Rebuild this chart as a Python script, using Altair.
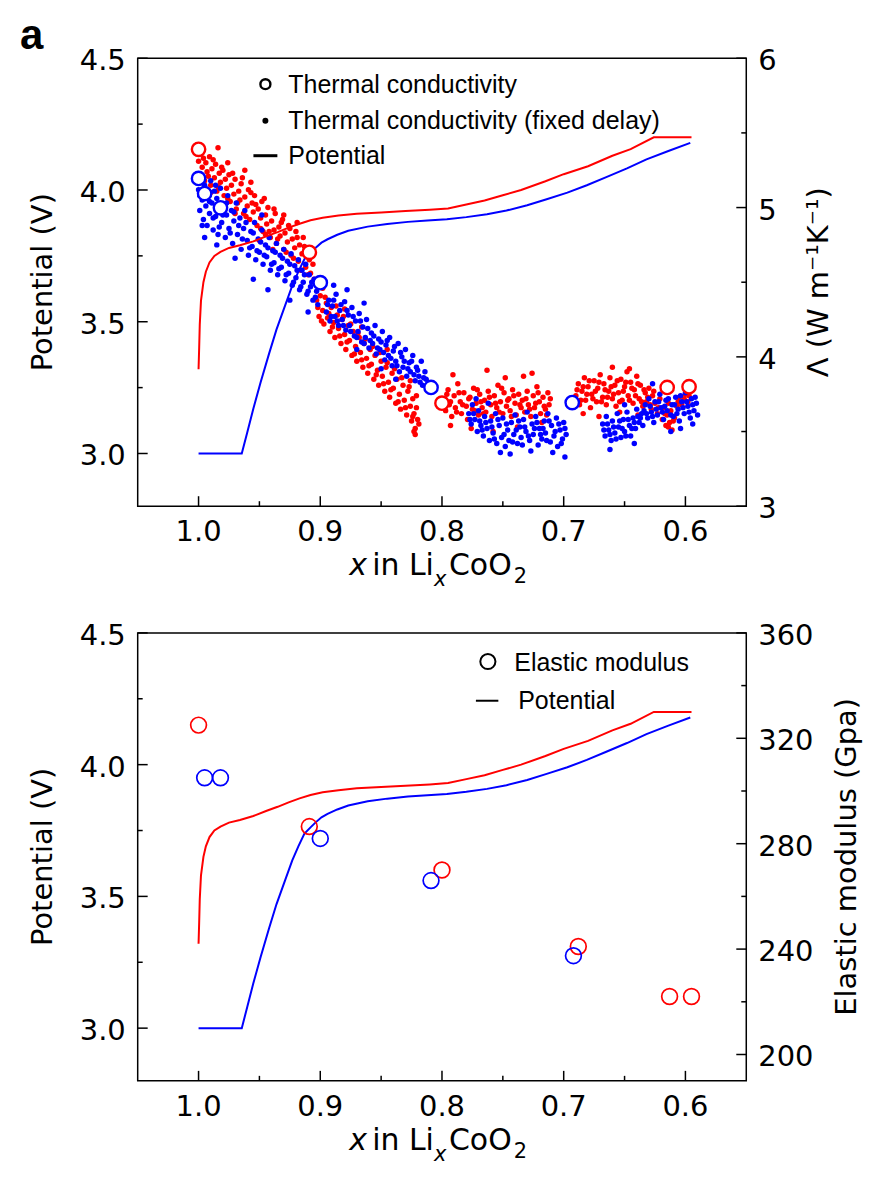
import altair as alt
import pandas as pd

AX_FONT = "DejaVu Sans"
LG_FONT = "Liberation Sans"
RED = "#ff0000"
BLUE = "#0000ff"
W, H = 610, 449

# ---------------- axes / ticks ----------------
X_DOMAIN = [0.55, 1.05]
V_DOMAIN = [2.8, 4.5]
L_DOMAIN = [3.0, 6.0]
E_DOMAIN = [190.0, 360.0]
X_MAJOR = [1.0, 0.9, 0.8, 0.7, 0.6]
X_MINOR = [0.95, 0.85, 0.75, 0.65]
V_MAJOR = [3.0, 3.5, 4.0, 4.5]
V_MINOR = [3.25, 3.75, 4.25]
L_MAJOR = [3, 4, 5, 6]
L_MINOR = [3.5, 4.5, 5.5]
E_MAJOR = [200, 240, 280, 320, 360]
E_MINOR = [220, 260, 300, 340]

# ---------------- potential curves (V) ----------------
RED_PX = [1.000, 0.9995, 0.999, 0.998, 0.996, 0.994, 0.991, 0.987, 0.982, 0.975, 0.966, 0.955,
          0.944, 0.935, 0.926, 0.917, 0.908, 0.898, 0.885, 0.870, 0.850, 0.830, 0.810, 0.795,
          0.780, 0.765, 0.750, 0.735, 0.715, 0.700, 0.680, 0.660, 0.645, 0.626, 0.612, 0.595]
RED_PV = [3.32, 3.40, 3.49, 3.58, 3.65, 3.69, 3.725, 3.75, 3.765, 3.78, 3.79, 3.805,
          3.825, 3.84, 3.857, 3.872, 3.885, 3.895, 3.903, 3.91, 3.915, 3.92, 3.925, 3.93,
          3.945, 3.96, 3.98, 4.0, 4.033, 4.06, 4.09, 4.13, 4.155, 4.2, 4.2, 4.2]
BLUE_PX = [1.000, 0.980, 0.9645, 0.960, 0.955, 0.949, 0.942, 0.936, 0.929, 0.923, 0.918, 0.913,
           0.908, 0.904, 0.899, 0.894, 0.886, 0.877, 0.861, 0.845, 0.828, 0.812, 0.796, 0.780,
           0.763, 0.747, 0.730, 0.714, 0.697, 0.681, 0.665, 0.648, 0.632, 0.614, 0.596]
BLUE_PV = [3.0, 3.0, 3.0, 3.08, 3.17, 3.27, 3.38, 3.47, 3.56, 3.637, 3.69, 3.738,
           3.762, 3.78, 3.80, 3.813, 3.83, 3.845, 3.861, 3.871, 3.879, 3.884, 3.889, 3.897,
           3.908, 3.922, 3.942, 3.965, 3.99, 4.018, 4.049, 4.082, 4.116, 4.148, 4.179]

# ---------------- thermal conductivity (open circles) ----------------
RED_TX = [1.000, 0.909, 0.800, 0.615, 0.597]
RED_T = [5.39, 4.70, 3.69, 3.795, 3.80]
BLUE_TX = [1.000, 0.995, 0.982, 0.900, 0.809, 0.693]
BLUE_T = [5.195, 5.094, 4.998, 4.497, 3.795, 3.694]

# ---------------- thermal conductivity, fixed delay (dots) [x, Lambda] ----------------
RED_DOTS_A = [
    [1.000, 5.31], [0.999, 5.22], [0.998, 5.36], [0.997, 5.27], [0.995, 5.18], [0.994, 5.30], [0.993, 5.24], [0.991, 5.34],
    [0.990, 5.15], [0.989, 5.26], [0.987, 5.20], [0.986, 5.29], [0.985, 5.11], [0.983, 5.23], [0.982, 5.17], [0.981, 5.27],
    [0.979, 5.08], [0.978, 5.19], [0.977, 5.13], [0.975, 5.22], [0.974, 5.04], [0.973, 5.15], [0.971, 5.09], [0.970, 5.19],
    [0.969, 4.99], [0.967, 5.11], [0.966, 5.05], [0.965, 5.16], [0.963, 4.96], [0.962, 5.07], [0.960, 5.01], [0.959, 5.12],
    [0.958, 4.92], [0.956, 5.03], [0.955, 4.97], [0.954, 5.08], [0.952, 4.88], [0.951, 4.99], [0.949, 4.93], [0.948, 5.04],
    [0.947, 4.84], [0.945, 4.95], [0.944, 4.89], [0.943, 5.00], [0.941, 4.80], [0.940, 4.91], [0.938, 4.85], [0.937, 4.96],
    [0.936, 4.76], [0.934, 4.87], [0.933, 4.81], [0.931, 4.92], [0.930, 4.72], [0.929, 4.83], [0.927, 4.77], [0.926, 4.88],
    [0.924, 4.68], [0.923, 4.79], [0.921, 4.73], [0.920, 4.84], [0.918, 4.64], [0.917, 4.75], [0.915, 4.69], [0.914, 4.80],
    [0.912, 4.60], [0.911, 4.71], [0.909, 4.65], [0.908, 4.56], [0.906, 4.62], [0.905, 4.52], [0.984, 5.40], [0.962, 5.25],
    [0.950, 4.78], [0.993, 5.12], [0.976, 5.30], [0.957, 5.17], [0.939, 4.72], [0.919, 4.90],
    [0.996, 5.33], [0.992, 5.21], [0.988, 5.32], [0.984, 5.14], [0.980, 5.25], [0.976, 5.06], [0.972, 5.23], [0.968, 5.03],
    [0.964, 5.20], [0.961, 4.94], [0.957, 5.10], [0.953, 5.02], [0.949, 4.86], [0.946, 5.06], [0.942, 4.84], [0.938, 4.99],
    [0.935, 4.79], [0.932, 4.90], [0.928, 4.70], [0.925, 4.86], [0.922, 4.66], [0.919, 4.80], [0.916, 4.58], [0.913, 4.74],
    [0.910, 4.55], [0.907, 4.68], [0.990, 5.10], [0.970, 4.96], [0.945, 4.82], [0.930, 4.95],
]
RED_DOTS_B = [
    [0.903, 4.38], [0.901, 4.27], [0.900, 4.41], [0.898, 4.31], [0.897, 4.22], [0.895, 4.36], [0.894, 4.26], [0.892, 4.17],
    [0.891, 4.33], [0.889, 4.23], [0.888, 4.13], [0.886, 4.28], [0.885, 4.19], [0.883, 4.09], [0.882, 4.25], [0.880, 4.15],
    [0.879, 4.05], [0.877, 4.21], [0.876, 4.11], [0.874, 4.01], [0.873, 4.17], [0.871, 4.07], [0.870, 3.97], [0.868, 4.13],
    [0.867, 4.03], [0.865, 3.93], [0.864, 4.09], [0.862, 3.99], [0.861, 3.89], [0.859, 4.05], [0.858, 3.95], [0.856, 3.85],
    [0.855, 4.01], [0.853, 3.91], [0.852, 3.81], [0.850, 3.97], [0.849, 3.87], [0.847, 3.77], [0.846, 3.93], [0.844, 3.83],
    [0.843, 3.73], [0.841, 3.89], [0.840, 3.79], [0.838, 3.69], [0.837, 3.85], [0.835, 3.75], [0.834, 3.65], [0.832, 3.81],
    [0.831, 3.71], [0.829, 3.61], [0.828, 3.77], [0.826, 3.67], [0.825, 3.57], [0.824, 3.72], [0.823, 3.62], [0.822, 3.52],
    [0.821, 3.66], [0.820, 3.58], [0.822, 3.48], [0.826, 3.84], [0.880, 4.32], [0.866, 4.20], [0.845, 4.05], [0.898, 4.46],
    [0.902, 4.33], [0.899, 4.24], [0.896, 4.40], [0.893, 4.29], [0.890, 4.20], [0.887, 4.34], [0.884, 4.14], [0.881, 4.27],
    [0.878, 4.10], [0.875, 4.22], [0.872, 4.02], [0.869, 4.16], [0.866, 3.98], [0.863, 4.12], [0.860, 3.94], [0.857, 4.07],
    [0.854, 3.88], [0.851, 4.03], [0.848, 3.82], [0.845, 3.96], [0.842, 3.78], [0.839, 3.92], [0.836, 3.70], [0.833, 3.86],
    [0.830, 3.66], [0.827, 3.80], [0.824, 3.60], [0.821, 3.74], [0.819, 3.55], [0.823, 3.50],
]
RED_DOTS_C = [
    [0.799, 3.72], [0.797, 3.64], [0.795, 3.78], [0.794, 3.68], [0.792, 3.60], [0.790, 3.74], [0.789, 3.66], [0.787, 3.82],
    [0.785, 3.70], [0.784, 3.62], [0.782, 3.76], [0.780, 3.67], [0.779, 3.58], [0.777, 3.73], [0.775, 3.65], [0.774, 3.79],
    [0.772, 3.69], [0.770, 3.61], [0.769, 3.75], [0.767, 3.66], [0.765, 3.71], [0.764, 3.63], [0.762, 3.77], [0.760, 3.68],
    [0.759, 3.60], [0.757, 3.74], [0.755, 3.66], [0.754, 3.81], [0.752, 3.70], [0.750, 3.62], [0.749, 3.76], [0.747, 3.67],
    [0.745, 3.72], [0.744, 3.64], [0.742, 3.78], [0.740, 3.69], [0.739, 3.61], [0.737, 3.75], [0.735, 3.66], [0.734, 3.71],
    [0.732, 3.63], [0.730, 3.77], [0.729, 3.68], [0.727, 3.60], [0.725, 3.74], [0.724, 3.66], [0.722, 3.80], [0.720, 3.70],
    [0.719, 3.62], [0.717, 3.73], [0.715, 3.65], [0.713, 3.76], [0.712, 3.68], [0.791, 3.88], [0.776, 3.52], [0.763, 3.91],
    [0.748, 3.86], [0.738, 3.53], [0.733, 3.87], [0.726, 3.89], [0.793, 3.54], [0.758, 3.50], [0.718, 3.56],
    [0.798, 3.66], [0.796, 3.75], [0.793, 3.70], [0.788, 3.63], [0.786, 3.76], [0.783, 3.68], [0.778, 3.72], [0.773, 3.64],
    [0.771, 3.78], [0.768, 3.70], [0.766, 3.62], [0.761, 3.73], [0.756, 3.69], [0.753, 3.63], [0.751, 3.79], [0.746, 3.71],
    [0.743, 3.60], [0.741, 3.74], [0.736, 3.68], [0.731, 3.72], [0.728, 3.65], [0.723, 3.69], [0.721, 3.76], [0.716, 3.67],
    [0.714, 3.61], [0.711, 3.72],
]
RED_DOTS_D = [
    [0.690, 3.74], [0.688, 3.82], [0.687, 3.68], [0.685, 3.77], [0.683, 3.86], [0.682, 3.71], [0.680, 3.80], [0.678, 3.66],
    [0.677, 3.75], [0.675, 3.84], [0.673, 3.70], [0.672, 3.79], [0.670, 3.88], [0.668, 3.73], [0.667, 3.82], [0.665, 3.68],
    [0.663, 3.77], [0.662, 3.86], [0.660, 3.72], [0.658, 3.81], [0.657, 3.67], [0.655, 3.76], [0.653, 3.85], [0.652, 3.71],
    [0.650, 3.80], [0.648, 3.90], [0.647, 3.74], [0.645, 3.83], [0.643, 3.69], [0.642, 3.78], [0.640, 3.87], [0.638, 3.72],
    [0.637, 3.81], [0.635, 3.67], [0.633, 3.76], [0.632, 3.70], [0.630, 3.79], [0.628, 3.65], [0.627, 3.74], [0.625, 3.69],
    [0.623, 3.62], [0.621, 3.72], [0.619, 3.58], [0.618, 3.66], [0.616, 3.54], [0.615, 3.61], [0.614, 3.69], [0.613, 3.56],
    [0.612, 3.64], [0.611, 3.51], [0.609, 3.59], [0.607, 3.67], [0.605, 3.73], [0.603, 3.68], [0.600, 3.75], [0.598, 3.70],
    [0.596, 3.77], [0.684, 3.62], [0.671, 3.60], [0.646, 3.92], [0.654, 3.63], [0.639, 3.61], [0.660, 3.93],
    [0.689, 3.78], [0.686, 3.71], [0.684, 3.80], [0.681, 3.75], [0.679, 3.84], [0.676, 3.72], [0.674, 3.77], [0.671, 3.83],
    [0.669, 3.70], [0.666, 3.78], [0.664, 3.73], [0.661, 3.80], [0.659, 3.75], [0.656, 3.84], [0.654, 3.70], [0.651, 3.77],
    [0.649, 3.83], [0.646, 3.71], [0.644, 3.79], [0.641, 3.74], [0.639, 3.82], [0.636, 3.70], [0.634, 3.78], [0.631, 3.73],
    [0.629, 3.68], [0.626, 3.77], [0.622, 3.66], [0.617, 3.62], [0.614, 3.53], [0.610, 3.57], [0.606, 3.70], [0.601, 3.72],
    [0.597, 3.74],
]
BLUE_DOTS_A = [
    [1.000, 5.12], [0.999, 4.98], [0.998, 5.20], [0.997, 5.05], [0.996, 4.92], [0.995, 5.15], [0.994, 5.01], [0.993, 4.88],
    [0.992, 5.09], [0.991, 4.96], [0.990, 5.18], [0.989, 5.03], [0.988, 4.85], [0.987, 5.11], [0.986, 4.94], [0.985, 5.06],
    [0.984, 4.82], [0.983, 4.99], [0.982, 5.13], [0.981, 4.90], [0.980, 5.02], [0.978, 4.80], [0.977, 4.95], [0.976, 5.08],
    [0.975, 4.86], [0.973, 4.98], [0.972, 4.76], [0.971, 4.91], [0.969, 5.03], [0.968, 4.82], [0.966, 4.93], [0.965, 4.72],
    [0.963, 4.86], [0.962, 4.98], [0.960, 4.78], [0.959, 4.68], [0.957, 4.84], [0.956, 4.74], [0.954, 4.90], [0.953, 4.65],
    [0.951, 4.79], [0.950, 4.70], [0.948, 4.85], [0.947, 4.62], [0.945, 4.75], [0.944, 4.67], [0.942, 4.80], [0.941, 4.58],
    [0.939, 4.71], [0.938, 4.63], [0.936, 4.76], [0.935, 4.55], [0.933, 4.68], [0.932, 4.60], [0.930, 4.72], [0.929, 4.51],
    [0.927, 4.64], [0.926, 4.56], [0.924, 4.69], [0.923, 4.48], [0.921, 4.61], [0.920, 4.53], [0.918, 4.65], [0.917, 4.45],
    [0.915, 4.58], [0.914, 4.50], [0.912, 4.62], [0.911, 4.42], [0.909, 4.55], [0.908, 4.47], [0.906, 4.38], [0.905, 4.52],
    [0.903, 4.44], [0.902, 4.35], [0.995, 4.80], [0.970, 4.66], [0.955, 4.52], [0.943, 4.45], [0.925, 4.38], [0.910, 4.30],
    [0.985, 4.75], [0.948, 4.95],
    [0.999, 5.08], [0.997, 4.88], [0.994, 5.10], [0.991, 5.04], [0.988, 4.93], [0.986, 5.15], [0.983, 4.87], [0.980, 4.95],
    [0.977, 5.03], [0.974, 4.83], [0.971, 4.97], [0.967, 4.88], [0.964, 4.79], [0.961, 4.90], [0.958, 4.73], [0.955, 4.83],
    [0.952, 4.71], [0.949, 4.77], [0.946, 4.68], [0.943, 4.73], [0.940, 4.62], [0.937, 4.70], [0.934, 4.59], [0.931, 4.66],
    [0.928, 4.55], [0.925, 4.62], [0.922, 4.50], [0.919, 4.58], [0.916, 4.47], [0.913, 4.55], [0.910, 4.44], [0.907, 4.50],
    [0.904, 4.40],
]
BLUE_DOTS_B = [
    [0.895, 4.30], [0.893, 4.38], [0.892, 4.24], [0.890, 4.34], [0.888, 4.27], [0.887, 4.42], [0.885, 4.21], [0.884, 4.31],
    [0.882, 4.25], [0.880, 4.37], [0.879, 4.18], [0.877, 4.28], [0.876, 4.21], [0.874, 4.33], [0.872, 4.14], [0.871, 4.24],
    [0.869, 4.17], [0.868, 4.29], [0.866, 4.10], [0.865, 4.20], [0.863, 4.13], [0.862, 4.25], [0.860, 4.06], [0.858, 4.16],
    [0.857, 4.09], [0.855, 4.21], [0.854, 4.02], [0.852, 4.12], [0.851, 4.05], [0.849, 4.17], [0.847, 3.98], [0.846, 4.08],
    [0.844, 4.01], [0.843, 4.13], [0.841, 3.94], [0.840, 4.04], [0.838, 3.97], [0.836, 4.09], [0.835, 3.90], [0.833, 4.00],
    [0.832, 3.93], [0.830, 4.05], [0.829, 3.87], [0.827, 3.96], [0.826, 3.90], [0.824, 4.01], [0.822, 3.84], [0.821, 3.93],
    [0.819, 3.87], [0.817, 3.97], [0.816, 3.81], [0.814, 3.90], [0.813, 3.85], [0.889, 4.48], [0.878, 4.45], [0.864, 4.36],
    [0.850, 3.92], [0.870, 4.05], [0.838, 3.85],
    [0.894, 4.35], [0.891, 4.27], [0.889, 4.38], [0.886, 4.24], [0.883, 4.35], [0.881, 4.21], [0.878, 4.31], [0.875, 4.17],
    [0.873, 4.27], [0.870, 4.13], [0.867, 4.24], [0.864, 4.09], [0.861, 4.19], [0.859, 4.11], [0.856, 4.14], [0.853, 4.06],
    [0.850, 4.10], [0.848, 4.03], [0.845, 4.11], [0.842, 3.99], [0.839, 4.07], [0.837, 3.94], [0.834, 4.03], [0.831, 3.97],
    [0.828, 3.92], [0.825, 3.97], [0.823, 3.88], [0.820, 3.91], [0.818, 3.83], [0.815, 3.86],
]
BLUE_DOTS_C = [
    [0.778, 3.62], [0.776, 3.55], [0.775, 3.68], [0.773, 3.58], [0.771, 3.50], [0.770, 3.64], [0.768, 3.54], [0.766, 3.47],
    [0.765, 3.60], [0.763, 3.52], [0.761, 3.44], [0.760, 3.57], [0.758, 3.49], [0.756, 3.62], [0.755, 3.42], [0.753, 3.54],
    [0.751, 3.46], [0.750, 3.59], [0.748, 3.40], [0.746, 3.51], [0.745, 3.44], [0.743, 3.56], [0.741, 3.48], [0.740, 3.61],
    [0.738, 3.42], [0.736, 3.53], [0.735, 3.46], [0.733, 3.58], [0.731, 3.50], [0.730, 3.63], [0.728, 3.44], [0.726, 3.55],
    [0.725, 3.48], [0.723, 3.60], [0.721, 3.41], [0.720, 3.52], [0.718, 3.45], [0.716, 3.57], [0.715, 3.49], [0.713, 3.62],
    [0.711, 3.43], [0.710, 3.54], [0.708, 3.47], [0.706, 3.59], [0.705, 3.40], [0.703, 3.51], [0.701, 3.45], [0.700, 3.56],
    [0.698, 3.48], [0.772, 3.72], [0.752, 3.36], [0.744, 3.35], [0.727, 3.37], [0.709, 3.36], [0.699, 3.33], [0.762, 3.69],
    [0.777, 3.58], [0.774, 3.62], [0.769, 3.57], [0.767, 3.51], [0.764, 3.56], [0.759, 3.53], [0.757, 3.45], [0.754, 3.58],
    [0.749, 3.48], [0.747, 3.55], [0.742, 3.43], [0.739, 3.51], [0.737, 3.57], [0.734, 3.41], [0.732, 3.53], [0.729, 3.47],
    [0.724, 3.52], [0.722, 3.56], [0.719, 3.48], [0.717, 3.52], [0.714, 3.44], [0.712, 3.57], [0.707, 3.50], [0.704, 3.55],
    [0.702, 3.42], [0.699, 3.52],
]
BLUE_DOTS_D = [
    [0.668, 3.55], [0.666, 3.47], [0.665, 3.60], [0.663, 3.51], [0.661, 3.44], [0.660, 3.57], [0.658, 3.49], [0.656, 3.62],
    [0.655, 3.53], [0.653, 3.46], [0.651, 3.58], [0.650, 3.50], [0.648, 3.63], [0.646, 3.54], [0.645, 3.47], [0.643, 3.59],
    [0.641, 3.52], [0.640, 3.65], [0.638, 3.56], [0.636, 3.62], [0.635, 3.54], [0.633, 3.68], [0.631, 3.59], [0.630, 3.72],
    [0.628, 3.63], [0.626, 3.56], [0.625, 3.70], [0.623, 3.61], [0.621, 3.75], [0.620, 3.66], [0.618, 3.58], [0.616, 3.71],
    [0.615, 3.64], [0.613, 3.78], [0.611, 3.68], [0.610, 3.60], [0.608, 3.73], [0.606, 3.65], [0.605, 3.57], [0.603, 3.70],
    [0.601, 3.62], [0.600, 3.76], [0.598, 3.67], [0.596, 3.59], [0.595, 3.72], [0.593, 3.64], [0.591, 3.69], [0.590, 3.61],
    [0.662, 3.38], [0.642, 3.42], [0.627, 3.82], [0.612, 3.50], [0.604, 3.52], [0.594, 3.55], [0.650, 3.68],
    [0.667, 3.51], [0.664, 3.55], [0.662, 3.48], [0.659, 3.53], [0.657, 3.45], [0.654, 3.57], [0.652, 3.52], [0.649, 3.47],
    [0.647, 3.58], [0.644, 3.52], [0.642, 3.56], [0.639, 3.60], [0.637, 3.59], [0.634, 3.64], [0.632, 3.62], [0.629, 3.67],
    [0.627, 3.60], [0.624, 3.65], [0.622, 3.70], [0.619, 3.63], [0.617, 3.67], [0.614, 3.72], [0.612, 3.61], [0.609, 3.68],
    [0.607, 3.62], [0.604, 3.74], [0.602, 3.66], [0.599, 3.70], [0.597, 3.63], [0.594, 3.68], [0.592, 3.73],
]

# ---------------- elastic modulus (GPa) ----------------
RED_EX = [1.000, 0.909, 0.800, 0.688, 0.613, 0.595]
RED_E = [325, 286.5, 270, 241, 222, 222]
BLUE_EX = [0.995, 0.982, 0.900, 0.809, 0.692]
BLUE_E = [305, 305, 282, 266, 237.5]


# ---------------- helpers ----------------
def xs():
    return alt.Scale(domain=X_DOMAIN, reverse=True, nice=False, zero=False)


def sc(domain):
    return alt.Scale(domain=domain, nice=False, zero=False)


def X(field="x"):
    return alt.X(f"{field}:Q", scale=xs(), axis=None)


def Y(field, domain):
    return alt.Y(f"{field}:Q", scale=sc(domain), axis=None)


def one_row():
    return pd.DataFrame({"k": [0]})


def text(t, x, y, size=25, font=LG_FONT, style="normal", weight="normal", baseline="middle", angle=0, align="left"):
    return alt.Chart(one_row()).mark_text(
        text=t, align=align, baseline=baseline, fontSize=size, font=font, angle=angle,
        fontStyle=style, fontWeight=weight, color="black"
    ).encode(x=alt.value(x), y=alt.value(y))


def symbol(x, y, size, filled, sw=2.0):
    return alt.Chart(one_row()).mark_point(
        shape="circle", filled=filled, size=size, color="black", strokeWidth=sw, opacity=1
    ).encode(x=alt.value(x), y=alt.value(y))


def seg(x0, x1, y, sw):
    return alt.Chart(one_row()).mark_rule(color="black", strokeWidth=sw).encode(
        x=alt.value(x0), x2=alt.value(x1), y=alt.value(y))


def yticks(values, domain, x0, x1):
    return alt.Chart(pd.DataFrame({"t": values})).mark_rule(color="black", strokeWidth=1.5).encode(
        y=Y("t", domain), x=alt.value(x0), x2=alt.value(x1))


def ylabels(values, domain, fmt, x, align):
    return alt.Chart(pd.DataFrame({"t": values})).mark_text(
        align=align, baseline="middle", dy=3, fontSize=29, font=AX_FONT, color="black"
    ).encode(y=Y("t", domain), x=alt.value(x), text=alt.Text("t:Q", format=fmt))


def xticks(values, length):
    return alt.Chart(pd.DataFrame({"x": values})).mark_rule(color="black", strokeWidth=1.5).encode(
        x=X(), y=alt.value(H - length), y2=alt.value(H))


def xlabels():
    return alt.Chart(pd.DataFrame({"x": X_MAJOR})).mark_text(
        align="center", baseline="top", fontSize=29, font=AX_FONT, color="black"
    ).encode(x=X(), y=alt.value(H + 12), text=alt.Text("x:Q", format=".1f"))


def x_title():
    return [
        text("x", 212, H + 69, size=30, font=AX_FONT, style="italic", baseline="alphabetic"),
        text("in Li", 235, H + 69, size=30, font=AX_FONT, baseline="alphabetic"),
        text("x", 297, H + 80, size=21, font=AX_FONT, style="italic", baseline="alphabetic"),
        text("CoO", 312, H + 69, size=30, font=AX_FONT, baseline="alphabetic"),
        text("2", 377, H + 77, size=21, font=AX_FONT, baseline="alphabetic"),
    ]


def potential_group():
    red = alt.Chart(pd.DataFrame({"x": RED_PX, "v": RED_PV})).mark_line(color=RED, strokeWidth=2).encode(
        x=X(), y=Y("v", V_DOMAIN))
    blue = alt.Chart(pd.DataFrame({"x": BLUE_PX, "v": BLUE_PV})).mark_line(color=BLUE, strokeWidth=2).encode(
        x=X(), y=Y("v", V_DOMAIN))
    return alt.layer(
        red, blue,
        yticks(V_MAJOR, V_DOMAIN, 0, 10), yticks(V_MINOR, V_DOMAIN, 0, 5),
        ylabels(V_MAJOR, V_DOMAIN, ".1f", -12, "right"),
        xticks(X_MAJOR, 10), xticks(X_MINOR, 5), xlabels(),
    )


def left_title():
    return text("Potential (V)", -86, H / 2, size=29, font=AX_FONT, baseline="alphabetic", angle=270, align="center")


# ---------------- top panel ----------------
red_dots = pd.DataFrame(RED_DOTS_A + RED_DOTS_B + RED_DOTS_C + RED_DOTS_D, columns=["x", "L"])
blue_dots = pd.DataFrame(BLUE_DOTS_A + BLUE_DOTS_B + BLUE_DOTS_C + BLUE_DOTS_D, columns=["x", "L"])

dots_group = alt.layer(
    alt.Chart(red_dots).mark_circle(color=RED, size=30, opacity=1).encode(x=X(), y=Y("L", L_DOMAIN)),
    alt.Chart(blue_dots).mark_circle(color=BLUE, size=30, opacity=1).encode(x=X(), y=Y("L", L_DOMAIN)),
    yticks(L_MAJOR, L_DOMAIN, W - 10, W),
    yticks(L_MINOR, L_DOMAIN, W - 5, W),
    ylabels(L_MAJOR, L_DOMAIN, "d", W + 12, "left"),
)

tc_circles = alt.layer(
    alt.Chart(pd.DataFrame({"x": RED_TX, "L": RED_T})).mark_point(
        shape="circle", filled=True, fill="white", stroke=RED, strokeWidth=2.4, size=180, opacity=1).encode(
        x=X(), y=Y("L", L_DOMAIN)),
    alt.Chart(pd.DataFrame({"x": BLUE_TX, "L": BLUE_T})).mark_point(
        shape="circle", filled=True, fill="white", stroke=BLUE, strokeWidth=2.4, size=180, opacity=1).encode(
        x=X(), y=Y("L", L_DOMAIN)),
)

top_overlay = [
    symbol(128, 26, 100, False, 2.4),
    text("Thermal conductivity", 151, 26.5),
    symbol(128, 62.7, 36, True, 1),
    text("Thermal conductivity (fixed delay)", 151, 63.4),
    seg(116, 140, 97.7, 3),
    text("Potential", 151, 98.4),
    text("a", -118, -9, size=42, weight="bold", baseline="alphabetic"),
    left_title(),
    text("Λ (W m⁻¹K⁻¹)", W + 82, H / 2, size=29, font=AX_FONT, baseline="alphabetic", angle=270, align="center"),
] + x_title()

top = alt.layer(dots_group, potential_group(), tc_circles, *top_overlay).resolve_scale(
    y="independent").properties(width=W, height=H)

# ---------------- bottom panel ----------------
em_group = alt.layer(
    alt.Chart(pd.DataFrame({"x": RED_EX, "E": RED_E})).mark_point(
        shape="circle", filled=False, color=RED, strokeWidth=1.7, size=250, opacity=1).encode(
        x=X(), y=Y("E", E_DOMAIN)),
    alt.Chart(pd.DataFrame({"x": BLUE_EX, "E": BLUE_E})).mark_point(
        shape="circle", filled=False, color=BLUE, strokeWidth=1.7, size=250, opacity=1).encode(
        x=X(), y=Y("E", E_DOMAIN)),
    yticks(E_MAJOR, E_DOMAIN, W - 10, W),
    yticks(E_MINOR, E_DOMAIN, W - 5, W),
    ylabels(E_MAJOR, E_DOMAIN, "d", W + 12, "left"),
)

bottom_overlay = [
    symbol(351, 28.7, 230, False, 2),
    text("Elastic modulus", 377.5, 30.3),
    seg(339, 361.5, 68, 2),
    text("Potential", 381.4, 68.7),
    left_title(),
    text("Elastic modulus (Gpa)", W + 110, H / 2, size=29, font=AX_FONT, baseline="alphabetic", angle=270, align="center"),
] + x_title()

bottom = alt.layer(potential_group(), em_group, *bottom_overlay).resolve_scale(
    y="independent").properties(width=W, height=H)

chart = alt.vconcat(top, bottom, spacing=127, bounds="flush").properties(
    padding={"left": 11, "top": 5, "right": 0, "bottom": 0}
).configure_view(
    stroke="black", strokeWidth=1.5
)

chart.save("out.html", embed_options={"renderer": "svg", "actions": False})
